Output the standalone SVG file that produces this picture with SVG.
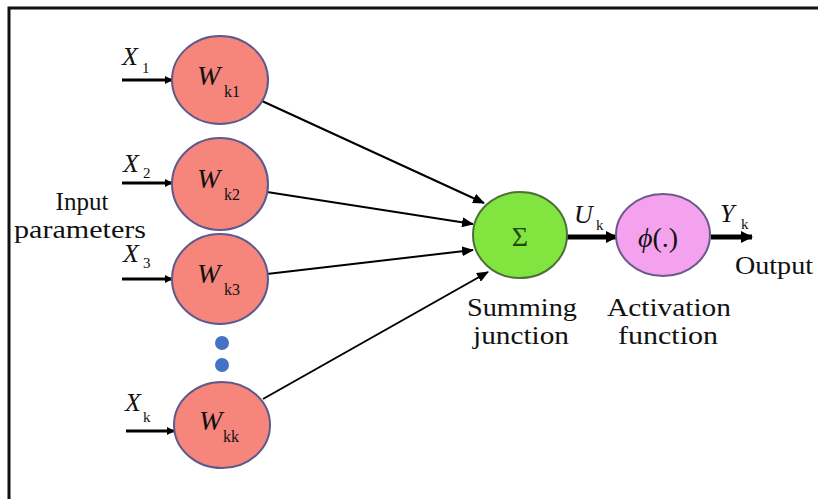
<svg xmlns="http://www.w3.org/2000/svg" width="818" height="499" viewBox="0 0 818 499">
<style>
text{font-family:"Liberation Serif","DejaVu Serif",serif;fill:#111}
.lbl{font-size:25px}
.it{font-style:italic}
.sub{font-size:15px}
.wn{fill:#F6857C;stroke:#5C5A8C;stroke-width:2}
.thin{stroke:#000;stroke-width:2;fill:none}
.inp{stroke:#000;stroke-width:3;fill:none}
.thick{stroke:#000;stroke-width:5;fill:none}
</style>
<defs>
<marker id="ah" markerUnits="userSpaceOnUse" markerWidth="12" markerHeight="10" refX="11" refY="5" orient="auto">
<path d="M0,0 L12,5 L0,10 Z" fill="#000"/>
</marker>
<marker id="ahs" markerUnits="userSpaceOnUse" markerWidth="8" markerHeight="8" refX="7" refY="4" orient="auto">
<path d="M0,0 L8,4 L0,8 Z" fill="#000"/>
</marker>
<marker id="ahb" markerUnits="userSpaceOnUse" markerWidth="12" markerHeight="12" refX="11" refY="6" orient="auto">
<path d="M0,0 L12,6 L0,12 Z" fill="#000"/>
</marker>
</defs>
<rect width="818" height="499" fill="#fff"/>
<path d="M9,499 V8 H818" fill="none" stroke="#111" stroke-width="3"/>

<g id="connectors">
<line class="inp" x1="122" y1="80" x2="172" y2="80" marker-end="url(#ahs)"/>
<line class="inp" x1="122" y1="183" x2="172" y2="183" marker-end="url(#ahs)"/>
<line class="inp" x1="122" y1="279" x2="172" y2="279" marker-end="url(#ahs)"/>
<line class="inp" x1="126" y1="431" x2="174" y2="431" marker-end="url(#ahs)"/>
<line class="thin" x1="262" y1="101" x2="484" y2="203" marker-end="url(#ah)"/>
<line class="thin" x1="267" y1="192" x2="473" y2="224" marker-end="url(#ah)"/>
<line class="thin" x1="267" y1="274" x2="473" y2="250" marker-end="url(#ah)"/>
<line class="thin" x1="263" y1="399" x2="488" y2="272" marker-end="url(#ah)"/>
<line class="thick" x1="567" y1="237" x2="617" y2="237" marker-end="url(#ahb)"/>
<line class="thick" x1="711" y1="237" x2="752" y2="237" marker-end="url(#ahb)"/>
</g>

<g id="label-input">
<text class="lbl" x="82" y="210" text-anchor="middle">Input</text>
<text class="lbl" x="80" y="238" text-anchor="middle" textLength="132" lengthAdjust="spacingAndGlyphs">parameters</text>
</g>

<g id="x1"><text class="it" x="122" y="65" font-size="26">X</text><text class="sub" x="142" y="73">1</text></g>
<g id="x2"><text class="it" x="123" y="172" font-size="26">X</text><text class="sub" x="143" y="178">2</text></g>
<g id="x3"><text class="it" x="123" y="262" font-size="26">X</text><text class="sub" x="143" y="268">3</text></g>
<g id="xk"><text class="it" x="125" y="411" font-size="26">X</text><text class="sub" x="143" y="422">k</text></g>

<g id="wk1">
<ellipse class="wn" cx="220" cy="80" rx="48" ry="44"/>
<text class="it" x="197" y="85" font-size="28">W</text>
<text x="224" y="97" font-size="16">k1</text>
</g>
<g id="wk2">
<ellipse class="wn" cx="220" cy="184" rx="48" ry="46"/>
<text class="it" x="197" y="188" font-size="28">W</text>
<text x="224" y="200" font-size="16">k2</text>
</g>
<g id="wk3">
<ellipse class="wn" cx="220" cy="279" rx="48" ry="45"/>
<text class="it" x="197" y="283" font-size="28">W</text>
<text x="224" y="295" font-size="16">k3</text>
</g>
<g id="dots">
<circle cx="222" cy="343" r="7" fill="#4472C4"/>
<circle cx="222" cy="365" r="7" fill="#4472C4"/>
</g>
<g id="wkk">
<ellipse class="wn" cx="222" cy="425" rx="48" ry="43"/>
<text class="it" x="199" y="430" font-size="28">W</text>
<text x="223" y="442" font-size="16">kk</text>
</g>

<g id="sum">
<ellipse cx="520" cy="235" rx="47" ry="43" fill="#82E43E" stroke="#4E6E3C" stroke-width="2"/>
<text x="520" y="246" font-size="28" text-anchor="middle" style="fill:#1F4A16">Σ</text>
</g>
<g id="label-uk"><text class="it" x="574" y="223" font-size="26">U</text><text class="sub" x="596" y="230">k</text></g>

<g id="act">
<ellipse cx="663" cy="235" rx="47" ry="41" fill="#F4A2EE" stroke="#6A5A8C" stroke-width="2"/>
<text x="638" y="247" font-size="28"><tspan font-style="italic">ϕ</tspan>(.)</text>
</g>
<g id="label-yk"><text class="it" x="720" y="222" font-size="26">Y</text><text class="sub" x="741" y="229">k</text></g>

<g id="label-output"><text class="lbl" x="774" y="274" text-anchor="middle" textLength="78" lengthAdjust="spacingAndGlyphs">Output</text></g>
<g id="label-sum">
<text class="lbl" x="522" y="316" text-anchor="middle" textLength="110" lengthAdjust="spacingAndGlyphs">Summing</text>
<text class="lbl" x="521" y="344" text-anchor="middle" textLength="96" lengthAdjust="spacingAndGlyphs">junction</text>
</g>
<g id="label-act">
<text class="lbl" x="669" y="316" text-anchor="middle" textLength="124" lengthAdjust="spacingAndGlyphs">Activation</text>
<text class="lbl" x="668" y="344" text-anchor="middle" textLength="100" lengthAdjust="spacingAndGlyphs">function</text>
</g>
</svg>
